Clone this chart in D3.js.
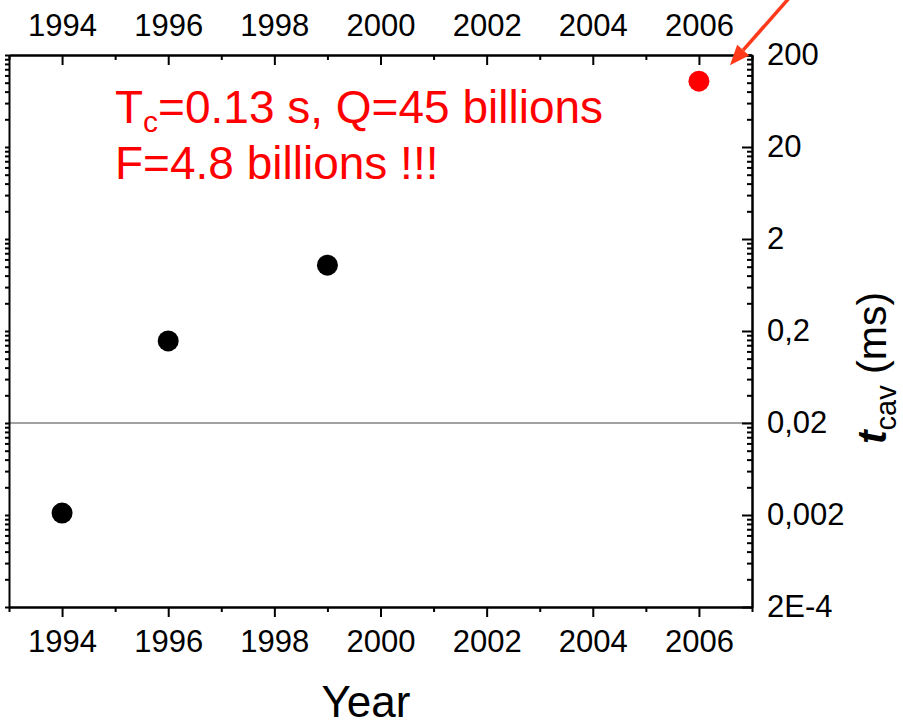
<!DOCTYPE html>
<html lang="en">
<head>
    <meta charset="UTF-8">
    <title>Cavity lifetime by year</title>
    <script src="https://d3js.org/d3.v7.min.js"></script>
    <style>
        body {
            margin: 0;
            background: #ffffff;
            font-family: Arial, "Liberation Sans", sans-serif;
        }
        svg {
            display: block;
        }
        svg text {
            font-family: Arial, "Liberation Sans", sans-serif;
        }
        .axis path.domain {
            stroke: #000;
            stroke-width: 2px;
        }
        .axis line {
            stroke: #000;
            stroke-width: 2px;
        }
        .axis text {
            font-size: 31px;
            fill: #000;
        }
    </style>
</head>
<body>
<script>
    // data
    const years = [1994, 1996, 1999, 2006];
    const tcav = [0.0021, 0.156, 1.04, 104];
    const pointColors = ["#000000", "#000000", "#000000", "#ff0000"];

    const yearTicks = [1994, 1996, 1998, 2000, 2002, 2004, 2006];
    const yearMinor = [1993, 1995, 1997, 1999, 2001, 2003, 2005, 2007];
    const yTickValues = [2e-4, 0.002, 0.02, 0.2, 2, 20, 200];
    const yTickLabels = ["2E-4", "0,002", "0,02", "0,2", "2", "20", "200"];
    const refLevel = 0.02;

    const width = 903, height = 728;
    const plotLeft = 9, plotRight = 752, plotTop = 55, plotBottom = 607;

    const svg = d3.select("body").append("svg")
        .attr("width", width)
        .attr("height", height);

    const x = d3.scaleLinear().domain([1993, 2007]).range([plotLeft, plotRight]);
    const y = d3.scaleLog().domain([2e-4, 200]).range([plotBottom, plotTop]);

    // minor log ticks: 2..9 times each major value
    const yMinor = [];
    yTickValues.slice(0, -1).forEach(v => {
        for (let j = 2; j <= 9; j++) yMinor.push(v * j);
    });

    // reference line
    svg.append("line")
        .attr("x1", plotLeft).attr("x2", plotRight)
        .attr("y1", y(refLevel)).attr("y2", y(refLevel))
        .attr("stroke", "#444").attr("stroke-width", 1);

    // bottom axis
    svg.append("g").attr("class", "axis")
        .attr("transform", `translate(0,${plotBottom})`)
        .call(d3.axisBottom(x).tickValues(yearMinor).tickSize(5).tickSizeOuter(0).tickFormat(""));
    svg.append("g").attr("class", "axis")
        .attr("transform", `translate(0,${plotBottom})`)
        .call(d3.axisBottom(x).tickValues(yearTicks).tickSize(10).tickSizeOuter(0)
            .tickPadding(13).tickFormat(d3.format("d")));

    // top axis (ticks inward)
    svg.append("g").attr("class", "axis")
        .attr("transform", `translate(0,${plotTop})`)
        .call(d3.axisTop(x).tickValues(yearMinor).tickSize(-5).tickSizeOuter(0).tickFormat(""));
    svg.append("g").attr("class", "axis")
        .attr("transform", `translate(0,${plotTop})`)
        .call(d3.axisTop(x).tickValues(yearTicks).tickSize(-10).tickSizeOuter(0)
            .tickPadding(19).tickFormat(d3.format("d")));

    // left axis (short outward ticks, no labels)
    svg.append("g").attr("class", "axis")
        .attr("transform", `translate(${plotLeft},0)`)
        .call(d3.axisLeft(y).tickValues(yMinor.concat(yTickValues)).tickSize(4).tickSizeOuter(0).tickFormat(""));

    // right axis (ticks inward, labels outside)
    svg.append("g").attr("class", "axis")
        .attr("transform", `translate(${plotRight},0)`)
        .call(d3.axisRight(y).tickValues(yMinor).tickSize(-5).tickSizeOuter(0).tickFormat(""));
    svg.append("g").attr("class", "axis")
        .attr("transform", `translate(${plotRight},0)`)
        .call(d3.axisRight(y).tickValues(yTickValues).tickSize(-10).tickSizeOuter(0)
            .tickPadding(15).tickFormat((d, i) => yTickLabels[i]));

    // points
    svg.append("g")
        .selectAll("circle")
        .data(years)
        .enter().append("circle")
        .attr("cx", d => x(d))
        .attr("cy", (d, i) => y(tcav[i]))
        .attr("r", 10.5)
        .attr("fill", (d, i) => pointColors[i]);

    // annotation text
    const note = svg.append("text")
        .attr("x", 115).attr("y", 123)
        .attr("fill", "#ff0000")
        .style("font-size", "46px");
    note.append("tspan").text("T");
    note.append("tspan").attr("dy", 9).style("font-size", "30px").text("c");
    note.append("tspan").attr("dy", -9).text("=0.13 s, Q=45 billions");
    svg.append("text")
        .attr("x", 115).attr("y", 179)
        .attr("fill", "#ff0000")
        .style("font-size", "46px")
        .text("F=4.8 billions !!!");

    // arrow pointing at the last point
    const last = years.length - 1;
    const tipX = x(years[last]) + 31, tipY = y(tcav[last]) - 16;
    const fromX = tipX + 60, fromY = tipY - 68;
    const ang = Math.atan2(tipY - fromY, tipX - fromX);
    const headL = 20, headW = 8;
    const bx = tipX - headL * Math.cos(ang), by = tipY - headL * Math.sin(ang);
    svg.append("line")
        .attr("x1", fromX).attr("y1", fromY)
        .attr("x2", bx).attr("y2", by)
        .attr("stroke", "#ff3a1a").attr("stroke-width", 3.5);
    svg.append("path")
        .attr("d", `M${tipX},${tipY}L${bx + headW * Math.sin(ang)},${by - headW * Math.cos(ang)}L${bx - headW * Math.sin(ang)},${by + headW * Math.cos(ang)}Z`)
        .attr("fill", "#ff3a1a");

    // axis titles
    svg.append("text")
        .attr("x", 366).attr("y", 717)
        .attr("text-anchor", "middle")
        .style("font-size", "44px")
        .text("Year");

    const yt = svg.append("text")
        .attr("transform", "translate(886,368) rotate(-90)")
        .attr("text-anchor", "middle")
        .style("font-size", "41px");
    yt.append("tspan").style("font-style", "italic").style("font-weight", "bold").text("t");
    yt.append("tspan").attr("dy", 10).style("font-size", "29px").text("cav");
    yt.append("tspan").attr("dy", -10).text(" (ms)");
</script>
</body>
</html>
